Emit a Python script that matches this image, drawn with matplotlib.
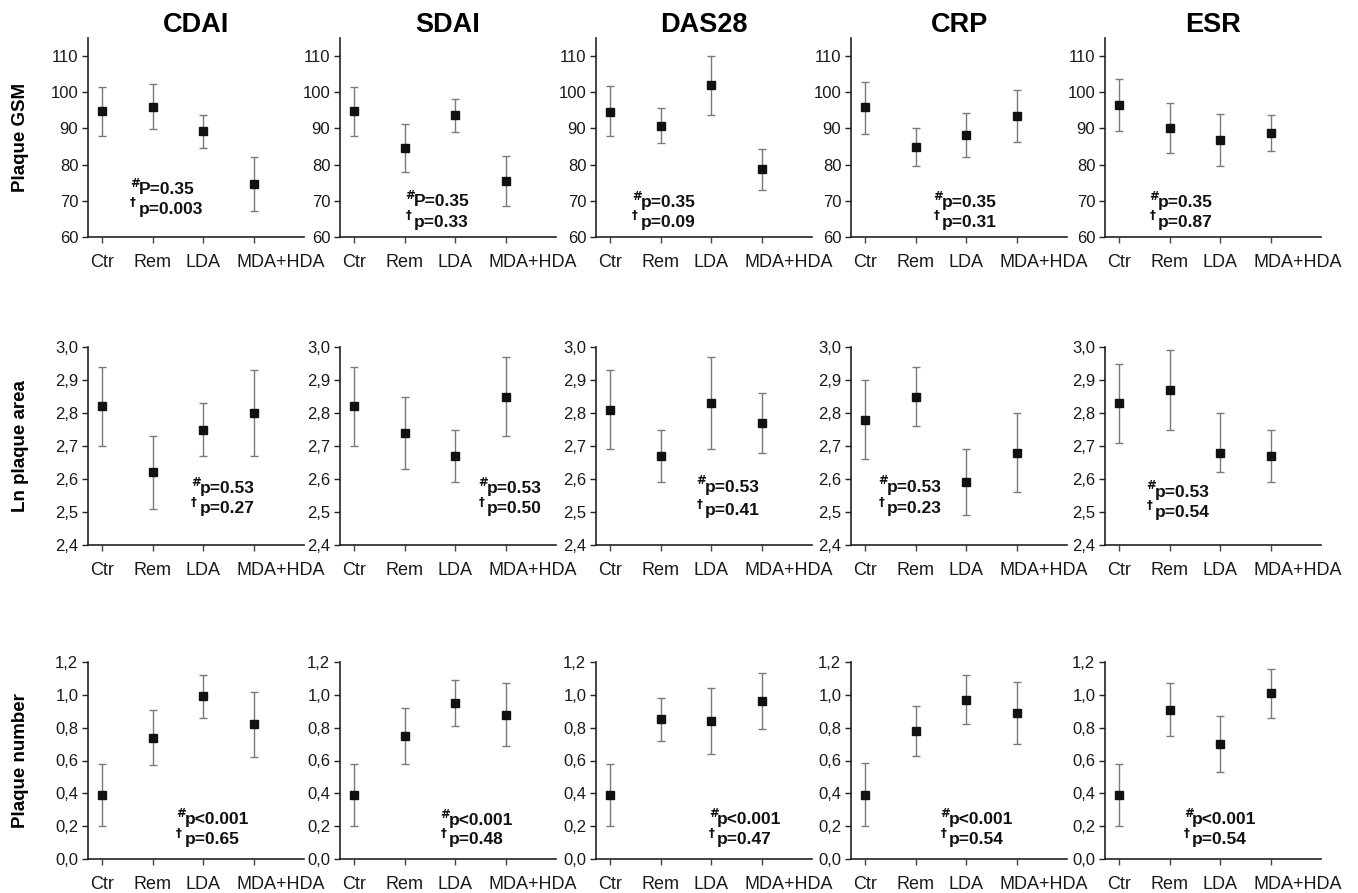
import matplotlib
matplotlib.use("Agg")
import matplotlib.pyplot as plt
import numpy as np
from matplotlib import font_manager as fm

# ---------------- data ----------------
categories = ["Ctr", "Rem", "LDA", "MDA+HDA"]
indices = ["CDAI", "SDAI", "DAS28", "CRP", "ESR"]
row_labels = ["Plaque GSM", "Ln plaque area", "Plaque number"]

# Row 1: Plaque GSM (mean, upper, lower) per index column
gsm_mean = [[94.8, 96.0, 89.2, 74.6],
            [94.7, 84.7, 93.6, 75.6],
            [94.6, 90.7, 101.9, 78.8],
            [95.8, 84.9, 88.1, 93.4],
            [96.4, 90.0, 86.8, 88.7]]
gsm_upper = [[101.5, 102.4, 93.8, 82.1],
             [101.4, 91.2, 98.1, 82.4],
             [101.6, 95.6, 109.9, 84.3],
             [102.8, 90.1, 94.2, 100.6],
             [103.6, 97.0, 94.0, 93.6]]
gsm_lower = [[87.9, 89.8, 84.7, 67.1],
             [87.9, 78.1, 89.0, 68.7],
             [87.9, 86.0, 93.8, 73.1],
             [88.6, 79.6, 82.0, 86.2],
             [89.2, 83.2, 79.5, 83.7]]

# Row 2: Ln plaque area
area_mean = [[2.82, 2.62, 2.75, 2.80],
             [2.82, 2.74, 2.67, 2.85],
             [2.81, 2.67, 2.83, 2.77],
             [2.78, 2.85, 2.59, 2.68],
             [2.83, 2.87, 2.68, 2.67]]
area_upper = [[2.94, 2.73, 2.83, 2.93],
              [2.94, 2.85, 2.75, 2.97],
              [2.93, 2.75, 2.97, 2.86],
              [2.90, 2.94, 2.69, 2.80],
              [2.95, 2.99, 2.80, 2.75]]
area_lower = [[2.70, 2.51, 2.67, 2.67],
              [2.70, 2.63, 2.59, 2.73],
              [2.69, 2.59, 2.69, 2.68],
              [2.66, 2.76, 2.49, 2.56],
              [2.71, 2.75, 2.62, 2.59]]

# Row 3: Plaque number
num_mean = [[0.39, 0.74, 0.99, 0.82],
            [0.39, 0.75, 0.95, 0.88],
            [0.39, 0.85, 0.84, 0.96],
            [0.39, 0.78, 0.97, 0.89],
            [0.39, 0.91, 0.70, 1.01]]
num_upper = [[0.58, 0.91, 1.12, 1.02],
             [0.58, 0.92, 1.09, 1.07],
             [0.58, 0.98, 1.04, 1.13],
             [0.585, 0.93, 1.12, 1.08],
             [0.58, 1.07, 0.87, 1.16]]
num_lower = [[0.20, 0.57, 0.86, 0.62],
             [0.20, 0.58, 0.81, 0.69],
             [0.20, 0.72, 0.64, 0.79],
             [0.20, 0.63, 0.82, 0.70],
             [0.20, 0.75, 0.53, 0.86]]

# tick values and labels
gsm_ticks = [60, 70, 80, 90, 100, 110]
gsm_ticklabels = ["60", "70", "80", "90", "100", "110"]
area_ticks = [2.4, 2.5, 2.6, 2.7, 2.8, 2.9, 3.0]
area_ticklabels = ["2,4", "2,5", "2,6", "2,7", "2,8", "2,9", "3,0"]
num_ticks = [0.0, 0.2, 0.4, 0.6, 0.8, 1.0, 1.2]
num_ticklabels = ["0,0", "0,2", "0,4", "0,6", "0,8", "1,0", "1,2"]

# p-value annotations: (line1 symbol, line1 text, line2 symbol, line2 text)
gsm_p = [("#", "P=0.35", "\u2020", "p=0.003"),
         ("#", "P=0.35", "\u2020", "p=0.33"),
         ("#", "p=0.35", "\u2020", "p=0.09"),
         ("#", "p=0.35", "\u2020", "p=0.31"),
         ("#", "p=0.35", "\u2020", "p=0.87")]
area_p = [("#", "p=0.53", "\u2020", "p=0.27"),
          ("#", "p=0.53", "\u2020", "p=0.50"),
          ("#", "p=0.53", "\u2020", "p=0.41"),
          ("#", "p=0.53", "\u2020", "p=0.23"),
          ("#", "p=0.53", "\u2020", "p=0.54")]
num_p = [("#", "p<0.001", "\u2020", "p=0.65"),
         ("#", "p<0.001", "\u2020", "p=0.48"),
         ("#", "p<0.001", "\u2020", "p=0.47"),
         ("#", "p<0.001", "\u2020", "p=0.54"),
         ("#", "p<0.001", "\u2020", "p=0.54")]

# ---------------- layout (positions, not data) ----------------
gsm_pos = [(0.72, 73.0, 67.7), (1.18, 69.7, 64.1), (0.60, 69.4, 64.1),
           (1.52, 69.4, 64.1), (0.77, 69.4, 64.1)]
area_pos = [(1.93, 2.57, 2.51), (2.63, 2.57, 2.51), (1.88, 2.575, 2.505),
            (0.43, 2.575, 2.51), (0.71, 2.56, 2.50)]
num_pos = [(1.63, 0.24, 0.117), (1.88, 0.236, 0.116), (2.12, 0.24, 0.12),
           (1.66, 0.24, 0.12), (1.45, 0.24, 0.12)]

rows = [
    dict(mean=gsm_mean, up=gsm_upper, lo=gsm_lower, ticks=gsm_ticks,
         tl=gsm_ticklabels, ylim=(60, 115), p=gsm_p, pos=gsm_pos),
    dict(mean=area_mean, up=area_upper, lo=area_lower, ticks=area_ticks,
         tl=area_ticklabels, ylim=(2.4, 3.0), p=area_p, pos=area_pos),
    dict(mean=num_mean, up=num_upper, lo=num_lower, ticks=num_ticks,
         tl=num_ticklabels, ylim=(0.0, 1.2), p=num_p, pos=num_pos),
]

W, H = 1358, 893
fig = plt.figure(figsize=(W / 100, H / 100), dpi=100)

col_left_px = [88, 340, 596, 851, 1105]
ax_w_px = 216
row_tb_px = [(38, 237), (347, 545), (662, 859)]

avail = {f.name for f in fm.fontManager.ttflist}
regular = "Liberation Sans" if "Liberation Sans" in avail else "DejaVu Sans"

x = np.arange(len(categories))
XT_FS = 13
XT_PAD = 8
XT_LEN = 4

for r, row in enumerate(rows):
    top, bot = row_tb_px[r]
    for c in range(5):
        left = col_left_px[c]
        ax = fig.add_axes([left / W, 1 - bot / H, ax_w_px / W, (bot - top) / H])
        fam = regular
        m = np.array(row["mean"][c])
        u = np.array(row["up"][c])
        lo = np.array(row["lo"][c])
        ax.errorbar(x, m, yerr=[m - lo, u - m], fmt="s", color="#111111",
                    markersize=5.4, ecolor="#7a7a7a", elinewidth=1.0,
                    capsize=3, capthick=1.0)
        ax.set_xlim(-0.28, 4.0)
        ax.set_ylim(*row["ylim"])
        ax.set_yticks(row["ticks"])
        ax.set_yticklabels(row["tl"], fontfamily=fam, fontsize=12)
        ax.set_xticks(x)
        # the long last label is drawn separately, left-shifted like the original
        ax.set_xticklabels(categories[:-1] + [""], fontfamily=fam,
                           fontsize=XT_FS)
        ax.annotate(categories[-1], xy=(x[-1], 0),
                    xycoords=("data", "axes fraction"),
                    xytext=(-12, -(XT_PAD + XT_LEN)),
                    textcoords="offset points", ha="left", va="top",
                    fontsize=XT_FS, fontfamily=fam, color="#1a1a1a",
                    annotation_clip=False)
        for s in ["top", "right"]:
            ax.spines[s].set_visible(False)
        for s in ["left", "bottom"]:
            ax.spines[s].set_linewidth(1.2)
            ax.spines[s].set_color("#222222")
        ax.tick_params(axis="y", direction="out", length=4, width=1.0,
                       pad=3, colors="#222222", labelcolor="#1a1a1a")
        ax.tick_params(axis="x", direction="out", length=XT_LEN, width=1.0,
                       pad=XT_PAD, colors="#444444", labelcolor="#1a1a1a")
        ax.patch.set_alpha(0)

        if r == 0:
            ax.set_title(indices[c], fontsize=19.5, fontweight="bold",
                         fontfamily=regular, pad=4)
        if c == 0:
            ax.set_ylabel(row_labels[r], fontsize=13.5, fontweight="bold",
                          fontfamily=regular)
            ax.yaxis.set_label_coords(-0.275, 0.5)

        s1, t1, s2, t2 = row["p"][c]
        px, py1, py2 = row["pos"][c]
        for sym, txt, py in [(s1, t1, py1), (s2, t2, py2)]:
            ax.text(px, py, txt, ha="left", va="center", fontsize=12.5,
                    fontweight="bold", fontfamily=fam, color="#111111")
            ax.annotate(sym, xy=(px, py), xycoords="data",
                        xytext=(-6, 4.5), textcoords="offset points",
                        ha="left", va="center", fontsize=8.5,
                        fontweight="bold", fontfamily=["DejaVu Sans"],
                        color="#111111")

fig.savefig("out.png", dpi=100, facecolor="white")
